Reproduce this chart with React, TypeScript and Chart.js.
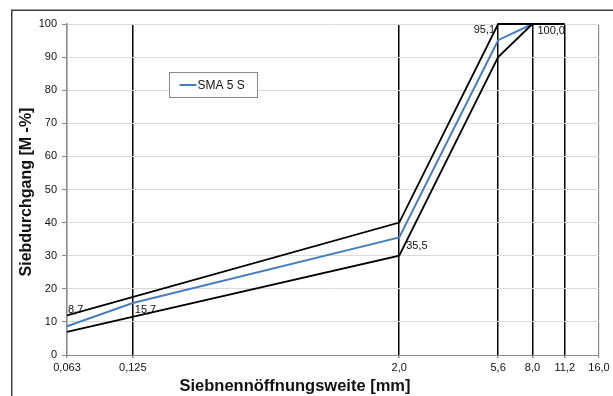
import React, { useEffect, useRef } from "react";
import { Chart, registerables } from "chart.js";

Chart.register(...registerables);

// Sieve sizes [mm] shown on the x axis
const sieveSizes = [0.063, 0.125, 2.0, 5.6, 8.0, 11.2, 16.0];
const sieveLabels = ["0,063", "0,125", "2,0", "5,6", "8,0", "11,2", "16,0"];

// Grading curve SMA 5 S (passing in M.-%)
const curveSizes = [0.063, 0.125, 2.0, 5.6, 8.0];
const curvePassing = [8.7, 15.7, 35.5, 95.1, 100.0];
const curveLabels = ["8,7", "15,7", "35,5", "95,1", "100,0"];

// Grading envelope
const upperSizes = [0.063, 2.0, 5.6, 11.2];
const upperPassing = [12, 40, 100, 100];
const lowerSizes = [0.063, 2.0, 5.6, 8.0];
const lowerPassing = [7, 30, 90, 100];

const seriesName = "SMA 5 S";
const yTitle = "Siebdurchgang [M -%]";
const xTitle = "Siebnennöffnungsweite [mm]";

const FONT = "'Liberation Sans', Arial, sans-serif";

const toPoints = (xs: number[], ys: number[]) => xs.map((x, i) => ({ x, y: ys[i] }));

// placement of each value label relative to its point: [dx, dy, align]
const labelPlacement: [number, number, CanvasTextAlign][] = [
  [1, -22, "left"],
  [2, 1, "left"],
  [7, 3, "left"],
  [-3, -16, "right"],
  [5, 1, "left"],
];

const framePlugin = {
  id: "frame",
  beforeDraw(chart: any) {
    const { ctx } = chart;
    ctx.save();
    ctx.fillStyle = "#fff";
    ctx.fillRect(0, 0, chart.width, chart.height);
    ctx.strokeStyle = "#3c3c3c";
    ctx.lineWidth = 1.5;
    ctx.strokeRect(11.75, 10.25, chart.width + 20, chart.height + 20);
    ctx.restore();
  },
};

const labelsAndLegendPlugin = {
  id: "labelsAndLegend",
  afterDatasetsDraw(chart: any) {
    const { ctx } = chart;
    const meta = chart.getDatasetMeta(2);
    ctx.save();
    ctx.font = `11px ${FONT}`;
    ctx.fillStyle = "#111";
    ctx.textBaseline = "top";
    meta.data.forEach((pt: any, i: number) => {
      const [dx, dy, align] = labelPlacement[i];
      ctx.textAlign = align;
      ctx.fillText(curveLabels[i], pt.x + dx, pt.y + dy);
    });

    // legend box
    const bx = 169.5, by = 72.5, bw = 88, bh = 25;
    ctx.fillStyle = "#fff";
    ctx.fillRect(bx, by, bw, bh);
    ctx.strokeStyle = "#8a8a8a";
    ctx.lineWidth = 1;
    ctx.strokeRect(bx, by, bw, bh);
    ctx.strokeStyle = "#4a7ebb";
    ctx.lineWidth = 2;
    ctx.beginPath();
    ctx.moveTo(bx + 10, by + 12.5);
    ctx.lineTo(bx + 27, by + 12.5);
    ctx.stroke();
    ctx.fillStyle = "#111";
    ctx.font = `12px ${FONT}`;
    ctx.textAlign = "left";
    ctx.textBaseline = "middle";
    ctx.fillText(seriesName, bx + 28, by + 13);

    // axis titles
    ctx.font = `bold 16.5px ${FONT}`;
    ctx.textAlign = "center";
    ctx.textBaseline = "alphabetic";
    ctx.fillText(xTitle, 295, 391);
    ctx.translate(27, 192);
    ctx.rotate(-Math.PI / 2);
    ctx.font = `bold 16px ${FONT}`;
    ctx.textBaseline = "middle";
    ctx.fillText(yTitle, 0, 0);
    ctx.restore();
  },
};

export default function App() {
  const canvasRef = useRef<HTMLCanvasElement | null>(null);

  useEffect(() => {
    document.body.style.margin = "0";
    const canvas = canvasRef.current;
    if (!canvas) return;
    const last = sieveSizes.length - 1;
    const chart = new Chart(canvas, {
      type: "scatter",
      data: {
        datasets: [
          {
            label: "upper",
            data: toPoints(upperSizes, upperPassing),
            showLine: true,
            borderColor: "#000",
            borderWidth: 1.8,
            pointRadius: 0,
            clip: 4,
          },
          {
            label: "lower",
            data: toPoints(lowerSizes, lowerPassing),
            showLine: true,
            borderColor: "#000",
            borderWidth: 1.8,
            pointRadius: 0,
            clip: 4,
          },
          {
            label: seriesName,
            data: toPoints(curveSizes, curvePassing),
            showLine: true,
            borderColor: "#4a7ebb",
            borderWidth: 2,
            pointRadius: 0,
            clip: 4,
          },
        ],
      },
      options: {
        responsive: false,
        animation: false,
        layout: { padding: { left: 12, top: 24, right: 14, bottom: 0 } },
        plugins: {
          legend: { display: false },
          tooltip: { enabled: false },
        },
        scales: {
          x: {
            type: "logarithmic",
            min: sieveSizes[0],
            max: sieveSizes[last],
            afterBuildTicks: (scale: any) => {
              scale.ticks = sieveSizes.map((v) => ({ value: v }));
            },
            afterFit: (scale: any) => {
              scale.height = 41;
            },
            ticks: {
              autoSkip: false,
              maxRotation: 0,
              padding: 3,
              color: "#111",
              font: { family: FONT, size: 11 },
              callback: (_v: any, i: number) => sieveLabels[i],
            },
            grid: {
              color: (c: any) => (c.index === 0 || c.index === last ? "#8a8a8a" : "#000"),
              lineWidth: (c: any) => (c.index === 0 || c.index === last ? 1.2 : 1.5),
              tickLength: 3,
              tickColor: "#8a8a8a",
            },
            border: { color: "#8a8a8a", width: 1 },
          },
          y: {
            min: 0,
            max: 100,
            afterFit: (scale: any) => {
              scale.width = 55;
            },
            ticks: {
              stepSize: 10,
              padding: 5,
              color: "#111",
              font: { family: FONT, size: 11 },
            },
            grid: {
              color: "#d9d9d9",
              lineWidth: 1,
              tickLength: 5,
              tickColor: "#8a8a8a",
            },
            border: { color: "#8a8a8a", width: 1.5 },
          },
        },
      },
      plugins: [framePlugin, labelsAndLegendPlugin],
    });
    return () => chart.destroy();
  }, []);

  return (
    <div style={{ width: 613, height: 396 }}>
      <canvas ref={canvasRef} width={613} height={396} style={{ display: "block" }} />
    </div>
  );
}
